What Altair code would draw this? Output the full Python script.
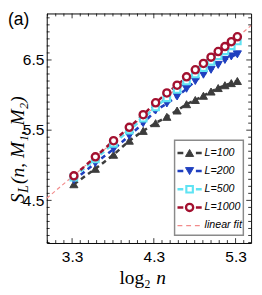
import altair as alt
import pandas as pd
import numpy as np

# ---------------- data ----------------
n_values = [10, 12, 14, 16, 18, 20, 22, 24, 26, 28, 30, 32, 34, 36, 38, 40]
s_L100 = [4.73, 4.95, 5.15, 5.35, 5.49, 5.60, 5.69, 5.78, 5.87, 5.93, 5.99, 6.05, 6.10, 6.14, 6.17, 6.20]
s_L200 = [4.79, 5.03, 5.23, 5.42, 5.60, 5.78, 5.88, 5.98, 6.09, 6.20, 6.29, 6.36, 6.43, 6.50, 6.55, 6.58]
s_L500 = [4.83, 5.09, 5.31, 5.50, 5.67, 5.83, 5.96, 6.08, 6.20, 6.30, 6.39, 6.48, 6.56, 6.63, 6.70, 6.77]
s_L1000 = [4.85, 5.12, 5.35, 5.54, 5.72, 5.89, 6.03, 6.14, 6.26, 6.36, 6.45, 6.54, 6.62, 6.69, 6.76, 6.83]
fit_x = [2.99, 5.49]
fit_y = [4.53, 6.99]

series_names = ["L=100", "L=200", "L=500", "L=1000"]
legend_labels = series_names + ["linear fit"]
x_major = [3.3, 4.3, 5.3]
y_major = [4.5, 5.5, 6.5]
x_minor = [round(3.0 + 0.1 * i, 1) for i in range(25)]
y_minor = [round(3.9 + 0.1 * i, 1) for i in range(33)]

# ---------------- style ----------------
W, H = 211, 237
X_DOM = [2.99, 5.49]
Y_DOM = [3.893, 7.162]
SANS = "Liberation Sans, Arial, sans-serif"
SERIF = "Liberation Serif, DejaVu Serif, serif"

colors = ["#3c3c3c", "#1f3fbf", "#5fe3f3", "#a3102f"]
fit_color = "#f28b8b"
styles = [
    dict(shape="triangle-up", size=70, fill=colors[0], sw=1.0),
    dict(shape="triangle-down", size=70, fill=colors[1], sw=1.0),
    dict(shape="square", size=45, fill="white", sw=2.2),
    dict(shape="circle", size=55, fill="white", sw=2.4),
]
values = [s_L100, s_L200, s_L500, s_L1000]
log2n = list(np.log2(n_values))

xaxis = alt.Axis(values=x_major, format=".1f", ticks=False, domain=False, grid=False,
                 labelPadding=6, labelFont=SANS, labelFontSize=16, labelColor="black",
                 title=None, labelFlush=False)
yaxis = alt.Axis(values=y_major, format=".1f", ticks=False, domain=False, grid=False,
                 labelPadding=3, labelFont=SANS, labelFontSize=16, labelColor="black",
                 title=None)


def X(field):
    return alt.X(field, type="quantitative", scale=alt.Scale(domain=X_DOM, nice=False, zero=False), axis=xaxis)


def Y(field):
    return alt.Y(field, type="quantitative", scale=alt.Scale(domain=Y_DOM, nice=False, zero=False), axis=yaxis)


main_layers = []

fit_df = pd.DataFrame({"x": fit_x, "y": fit_y})
main_layers.append(alt.Chart(fit_df).mark_line(color=fit_color, strokeWidth=1.2, strokeDash=[4, 3]).encode(x=X("x"), y=Y("y")))

dfs = []
for name, vals in zip(series_names, values):
    dfs.append(pd.DataFrame({"x": log2n, "y": vals, "series": name}))

for df, c in zip(dfs, colors):
    main_layers.append(alt.Chart(df).mark_line(color=c, strokeWidth=2.6, strokeDash=[5, 4]).encode(x=X("x"), y=Y("y")))
for df, c, st in zip(dfs, colors, styles):
    main_layers.append(alt.Chart(df).mark_point(shape=st["shape"], size=st["size"], filled=True, fill=st["fill"],
                                                stroke=c, strokeWidth=st["sw"], opacity=1).encode(x=X("x"), y=Y("y")))

# inward ticks on all four sides
def is_major(v, majors):
    return any(abs(v - m) < 1e-6 for m in majors)

xt = pd.DataFrame({"t": x_minor, "len": [5 if is_major(v, x_major) else 3 for v in x_minor]})
yt = pd.DataFrame({"t": y_minor, "len": [5 if is_major(v, y_major) else 3 for v in y_minor]})
for L in (3, 5):
    xd = xt[xt["len"] == L]
    yd = yt[yt["len"] == L]
    main_layers.append(alt.Chart(xd).mark_rule(color="black", strokeWidth=0.8).encode(x=X("t"), y=alt.value(H), y2=alt.value(H - L)))
    main_layers.append(alt.Chart(xd).mark_rule(color="black", strokeWidth=0.8).encode(x=X("t"), y=alt.value(0), y2=alt.value(L)))
    main_layers.append(alt.Chart(yd).mark_rule(color="black", strokeWidth=0.8).encode(y=Y("t"), x=alt.value(0), x2=alt.value(L)))
    main_layers.append(alt.Chart(yd).mark_rule(color="black", strokeWidth=0.8).encode(y=Y("t"), x=alt.value(W), x2=alt.value(W - L)))

# titles and panel label
one = pd.DataFrame({"k": [0]})
text_layers = [
    alt.Chart(one).mark_text(text="(a)", font=SANS, fontSize=18, align="left", baseline="top", color="black")
    .encode(x=alt.value(-40), y=alt.value(-2)),
    alt.Chart(one).mark_text(text="log₂", font=SERIF, fontSize=20, align="left", baseline="alphabetic", color="black")
    .encode(x=alt.value(75), y=alt.value(279)),
    alt.Chart(one).mark_text(text="n", font=SERIF, fontSize=20, fontStyle="italic", align="left", baseline="alphabetic", color="black")
    .encode(x=alt.value(113), y=alt.value(279)),
    alt.Chart(one).mark_text(text="S", font=SERIF, fontSize=20, fontStyle="italic", angle=270, align="left", baseline="alphabetic", color="black")
    .encode(x=alt.value(-23), y=alt.value(196)),
    alt.Chart(one).mark_text(text="L", font=SERIF, fontSize=14, fontStyle="italic", angle=270, align="left", baseline="alphabetic", color="black")
    .encode(x=alt.value(-19), y=alt.value(185)),
    alt.Chart(one).mark_text(text="(n, M₁, M₂)", font=SERIF, fontSize=20, fontStyle="italic", angle=270, align="left", baseline="alphabetic", color="black")
    .encode(x=alt.value(-23), y=alt.value(176)),
]

main = alt.layer(*main_layers, *text_layers)

# ---------------- legend ----------------
leg_df = pd.DataFrame({"label": legend_labels, "row": list(range(5))})
LY = alt.Y("row:Q", scale=alt.Scale(domain=[0, 4], range=[144, 219]), axis=None)
LC = alt.Color("label:N", scale=alt.Scale(domain=legend_labels, range=colors + [fit_color]), legend=None)

leg_layers = [
    alt.Chart(one).mark_rect(fill="white", stroke="#8a8a8a", strokeWidth=1.5)
    .encode(x=alt.value(132), x2=alt.value(203), y=alt.value(131), y2=alt.value(229)),
    alt.Chart(leg_df.iloc[:4]).mark_rule(strokeWidth=2.6, strokeDash=[6, 13]).encode(x=alt.value(135), x2=alt.value(160), y=LY, color=LC),
    alt.Chart(leg_df.iloc[4:]).mark_rule(strokeWidth=1.4, strokeDash=[5, 4]).encode(x=alt.value(135), x2=alt.value(160), y=LY, color=LC),
]
for i, (c, st) in enumerate(zip(colors, styles)):
    leg_layers.append(alt.Chart(leg_df.iloc[i:i + 1]).mark_point(shape=st["shape"], size=st["size"], filled=True, fill=st["fill"],
                                                                 stroke=c, strokeWidth=st["sw"], opacity=1)
                      .encode(x=alt.value(147.5), y=LY))
leg_layers.append(alt.Chart(leg_df).mark_text(align="left", baseline="middle", font=SANS, fontSize=11, fontStyle="italic", color="black")
                  .encode(x=alt.value(163), y=LY, text="label:N"))
legend = alt.layer(*leg_layers)

chart = alt.layer(main, legend).resolve_scale(y="independent").properties(
    width=W, height=H,
    autosize=alt.AutoSizeParams(type="none"),
    padding={"left": 40, "top": 1, "right": 3, "bottom": 48},
    background="white",
).configure_view(stroke="black", strokeWidth=1)

chart.save("out.html", embed_options={"renderer": "svg", "actions": False})
